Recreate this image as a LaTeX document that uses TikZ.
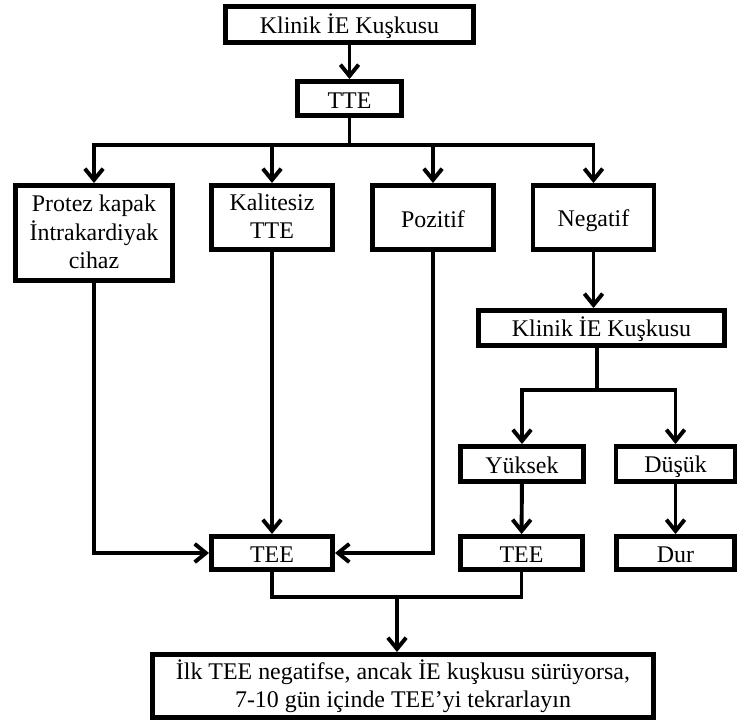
\documentclass[tikz,border=0pt]{standalone}
\usepackage{fontspec}
\setmainfont{Liberation Serif}
\usetikzlibrary{arrows.meta}

\begin{document}
\begin{tikzpicture}[x=0.025cm,y=-0.025cm,>={Straight Barb[length=8pt,width=13pt]}]
\def \hi {\rule{0pt}{16pt}}
\def \lo {\rule[-1.8pt]{0pt}{1.8pt}}
\tikzstyle{every node}=[font=\fontsize{17}{20}\selectfont,align=center,inner sep=0pt,
  execute at begin node=\hi,execute at end node=\lo]
\tikzstyle{box}=[draw,line width=3.5pt]
\tikzstyle{hv}=[to path={-| (\tikztotarget)}]
\tikzstyle{vh}=[to path={|- (\tikztotarget)}]
\useasboundingbox (0,0) rectangle (738,722);
\draw
  (349.5, 24.5) node [box,minimum width=6.2cm,minimum height=0.9cm]     (klinik)    {Klinik İE Kuşkusu}
  (349.5, 98.5) node [box,minimum width=2.6cm,minimum height=0.85cm]    (tte)       {TTE}
  (   94,  233) node [box,minimum width=3.925cm,minimum height=2.375cm] (protez)    {Protez kapak\\İntrakardiyak\\cihaz}
  (  272,217.5) node [box,minimum width=3.025cm,minimum height=1.6cm]   (kalitesiz) {Kalitesiz\\TTE}
  (  433,217.5) node [box,minimum width=3.025cm,minimum height=1.6cm]   (pozitif)   {Pozitif}
  (593.5,217.5) node [box,minimum width=3.025cm,minimum height=1.6cm]   (negatif)   {Negatif}
  (601.5,  328) node [box,minimum width=6.15cm,minimum height=0.875cm]  (klinik2)   {Klinik İE Kuşkusu}
  (  522,  464) node [box,minimum width=3.075cm,minimum height=0.875cm] (yuksek)    {Yüksek}
  (675.5,  464) node [box,minimum width=2.975cm,minimum height=0.875cm] (dusuk)     {Düşük}
  (  272,  553) node [box,minimum width=3.025cm,minimum height=0.825cm] (tee1)      {TEE}
  (521.5,  553) node [box,minimum width=3.05cm,minimum height=0.825cm]  (tee2)      {TEE}
  (675.5,  553) node [box,minimum width=2.95cm,minimum height=0.825cm]  (dur)       {Dur}
  (  403,  686) node [box,minimum width=12.525cm,minimum height=1.575cm] (son)
     {İlk TEE negatifse, ancak İE kuşkusu sürüyorsa,\\7-10 gün içinde TEE’yi tekrarlayın}
;
\coordinate (split)  at (349.5,145);
\coordinate (split2) at (  597,390);
\coordinate (join)   at (  397,597);
\draw[line width=2.8pt] (tte) -- (split) (klinik2.south -| split2) -- (split2);
\draw[line width=2.8pt] (tee1) |- (join) -| (tee2);
\path[->,line width=2.8pt]
(klinik) edge (tte)
(split) edge [hv] (protez)
(split) edge [hv] (kalitesiz)
(split) edge [hv] (pozitif)
(split) edge [hv] (negatif)

(protez)    edge [vh] (tee1)
(kalitesiz) edge      (tee1)
(pozitif)   edge [vh] (tee1)
(negatif.south) edge (negatif.south |- klinik2.north)

(split2) edge [hv] (yuksek)
(split2) edge [hv] (dusuk)
(yuksek) edge (tee2)
(dusuk)  edge (dur)
(join)   edge (join |- son.north)
;
\end{tikzpicture}
\end{document}
